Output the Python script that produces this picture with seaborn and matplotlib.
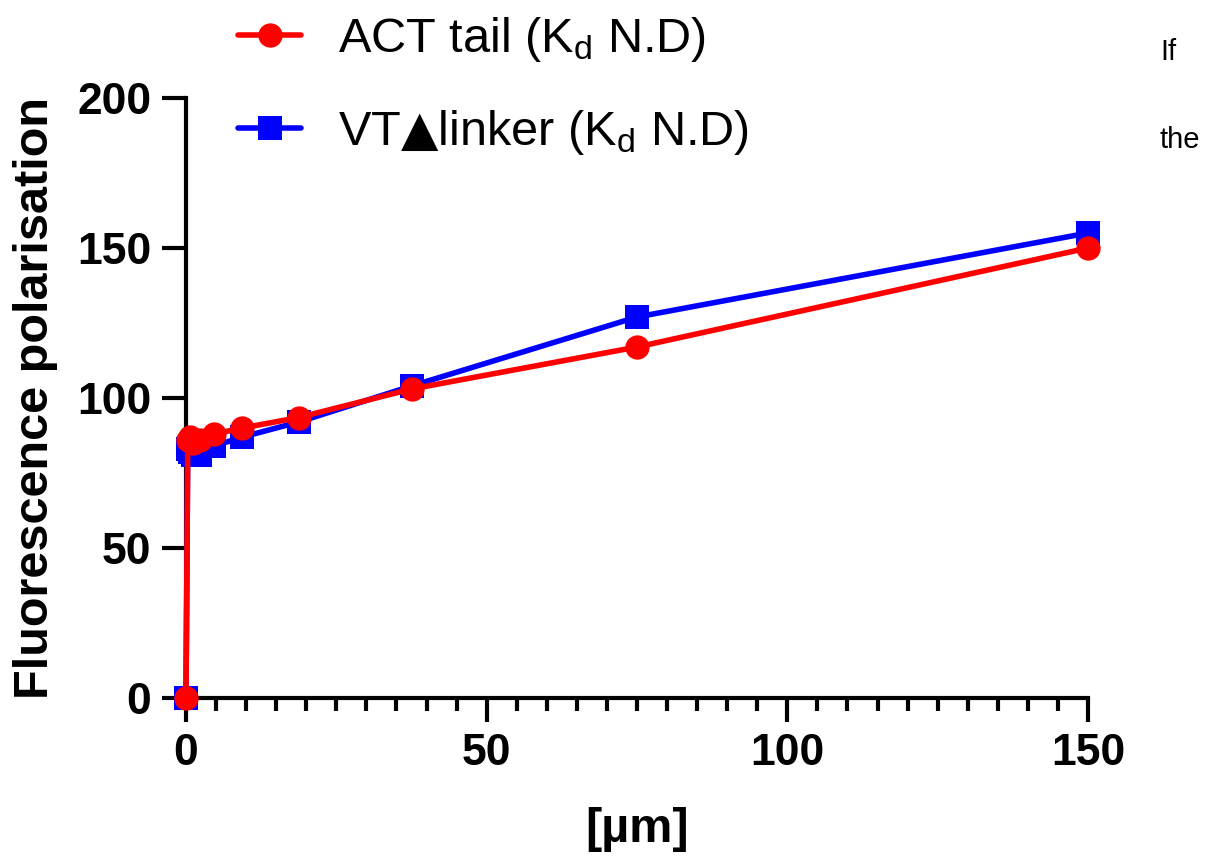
import numpy as np
import pandas as pd
import matplotlib
matplotlib.use('Agg')
import matplotlib.pyplot as plt
from matplotlib.ticker import MultipleLocator
import seaborn as sns

conc = [0, 0.29, 0.59, 1.17, 2.34, 4.69, 9.38, 18.75, 37.5, 75, 150]
act_tail = [0, 86, 87, 85, 86, 88, 90, 93.5, 103, 117, 150]
vt_linker = [0, 83, 82, 81, 81, 84, 87, 92, 104, 127, 155]

labels = [r'ACT tail (K$_\mathregular{d}$ N.D)',
          r'VT$\mathrm{▲}$linker (K$_\mathregular{d}$ N.D)']

df_act = pd.DataFrame({'conc': conc, 'fp': act_tail})
df_vt = pd.DataFrame({'conc': conc, 'fp': vt_linker})

sns.set_style('ticks')
plt.rcParams['font.family'] = ['Liberation Sans', 'DejaVu Sans']
plt.rcParams['mathtext.default'] = 'regular'
plt.rcParams['mathtext.fontset'] = 'dejavusans'
for k in ['text.color', 'axes.labelcolor', 'xtick.color', 'ytick.color']:
    plt.rcParams[k] = 'black'

fig = plt.figure(figsize=(12.15, 8.56), dpi=100)
ax = fig.add_axes([186 / 1215, 158 / 856, (1088 - 186) / 1215, 600 / 856])

sns.lineplot(data=df_vt, x='conc', y='fp', ax=ax, color='#0000ff', marker='s',
             markersize=17.5, markeredgewidth=0, linewidth=4, clip_on=False,
             label=labels[1], zorder=3)
sns.lineplot(data=df_act, x='conc', y='fp', ax=ax, color='#ff0000', marker='o',
             markersize=17.5, markeredgewidth=0, linewidth=4, clip_on=False,
             label=labels[0], zorder=4)

ax.set_xlim(0, 150)
ax.set_ylim(0, 200)
ax.xaxis.set_major_locator(MultipleLocator(50))
ax.xaxis.set_minor_locator(MultipleLocator(5))
ax.yaxis.set_major_locator(MultipleLocator(50))

sns.despine(ax=ax)
for s in ['left', 'bottom']:
    ax.spines[s].set_linewidth(3)
    ax.spines[s].set_color('black')
ax.tick_params(which='major', length=17, width=3, color='black', labelsize=32, pad=8)
ax.tick_params(which='minor', length=9, width=3, color='black')
for lab in ax.get_xticklabels() + ax.get_yticklabels():
    lab.set_fontweight('bold')

ax.set_xlabel('[µm]', fontsize=35, fontweight='bold', labelpad=24)
ax.set_ylabel('Fluorescence polarisation', fontsize=35, fontweight='bold', labelpad=14)

handles, labs = ax.get_legend_handles_labels()
ax.get_legend().remove()
order = [1, 0]
fig.legend([handles[i] for i in order], [labs[i] for i in order],
           loc='upper left', bbox_to_anchor=(238 / 1215, 1 - 15 / 856),
           frameon=False, fontsize=35, handlelength=1.3, handletextpad=0.75,
           labelspacing=0.9, borderpad=0, borderaxespad=0)

fig.text(1160 / 1215, 1 - 52 / 856, 'If', fontsize=21, va='center', ha='left')
fig.text(1160 / 1215, 1 - 140 / 856, 'the', fontsize=21, va='center', ha='left')

fig.savefig('out.png', dpi=100)
